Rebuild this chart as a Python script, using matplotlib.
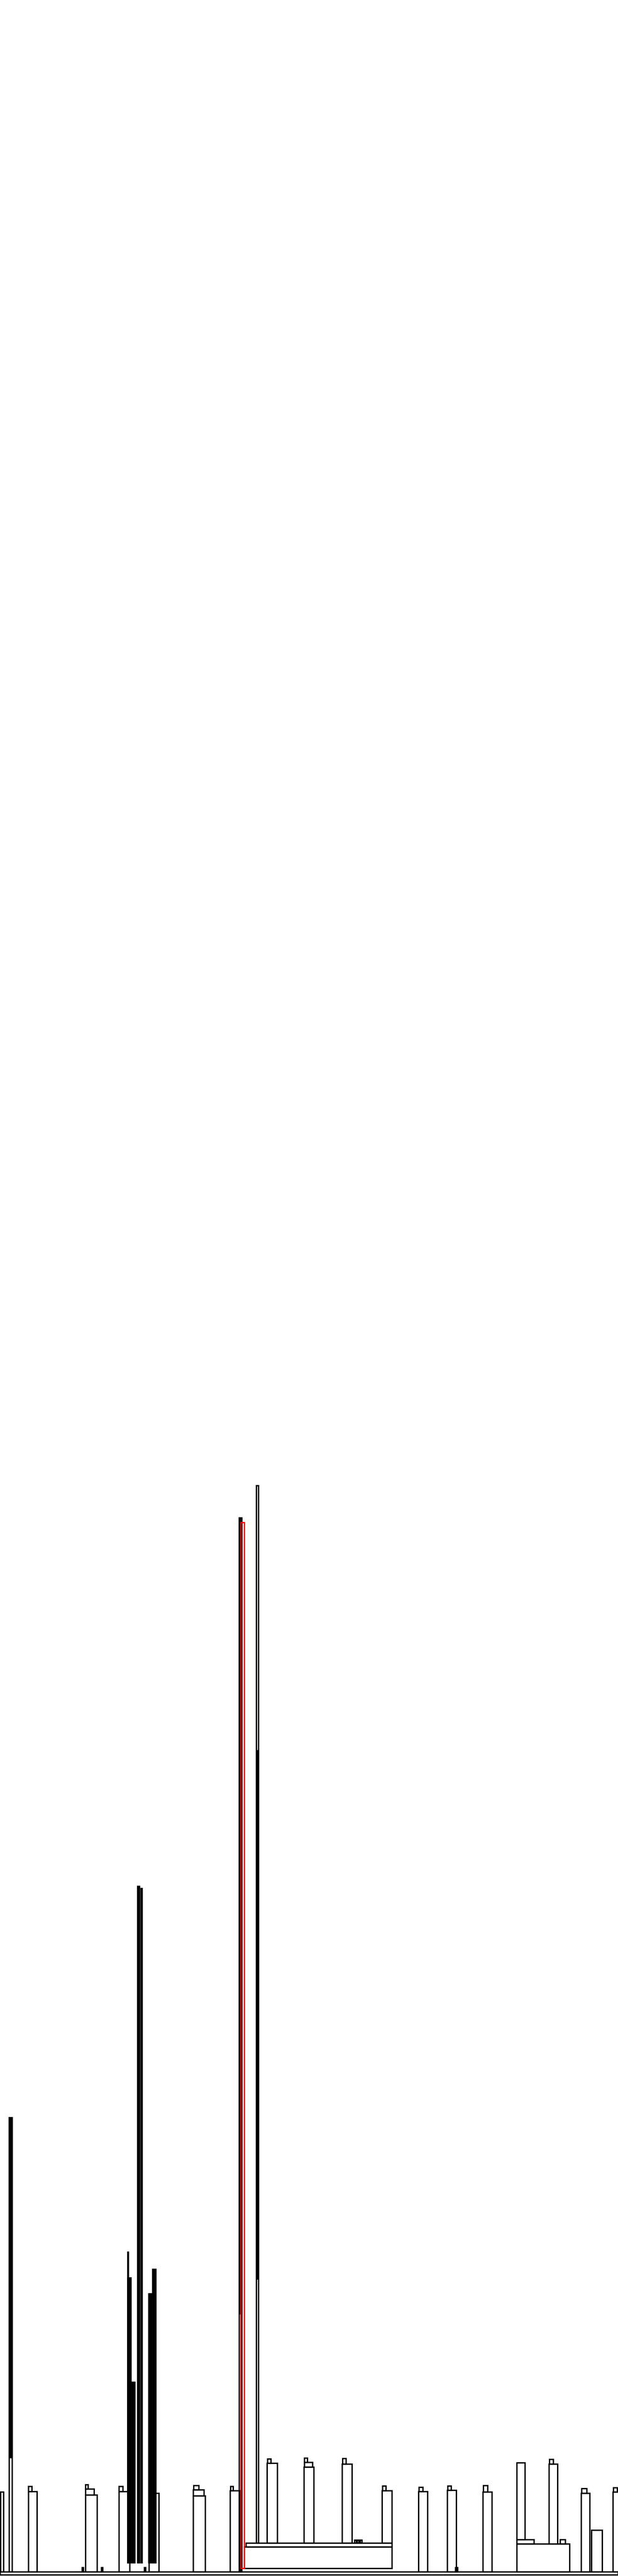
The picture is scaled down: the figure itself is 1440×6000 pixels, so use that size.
import matplotlib
matplotlib.use("Agg")
import matplotlib.pyplot as plt

# Heights are measured in pixel units above the common baseline.
# Outlined towers: left edge, right edge, top, bottom
tower_left   = [1, 21, 66, 199, 277, 347, 450, 536, 557,
                597, 569, 573, 622, 708, 797, 890, 975, 1042, 1125, 1204, 1204, 1204, 1279,
                1354, 1378, 1428]
tower_right  = [8, 28, 86, 226, 302, 370, 478, 560, 563,
                602, 913, 913, 646, 731, 820, 913, 996, 1063, 1146, 1327, 1223, 1244, 1299,
                1374, 1403, 1446]
tower_top    = [186, 1058, 187, 179, 187, 183, 177, 189, 2455,
                2530, 58, 67, 253, 244, 251, 189, 187, 190, 186, 65, 254, 75, 251,
                183, 97, 186]
tower_bottom = [0, 0, 0, 0, 0, 0, 0, 0, 0,
                67, 8, 58, 67, 67, 67, 67, 0, 0, 0, 0, 75, 65, 65,
                0, 0, 0]

# Solid (filled) narrow spikes
solid_left   = [21, 297, 297, 307, 320, 328, 346, 355, 597, 557]
solid_right  = [28, 306, 300, 315, 326, 332, 354, 364, 602, 561]
solid_top    = [1058, 685, 745, 442, 1597, 1592, 648, 705, 1913, 2455]
solid_bottom = [265, 20, 20, 20, 20, 20, 20, 20, 681, 600]

# Shoulder steps on top of some towers
step_left   = [199, 450, 709]
step_right  = [219, 475, 728]
step_top    = [193, 191, 255]
step_bottom = [179, 177, 244]

# Small flags on top of towers
flag_left   = [66, 199, 277, 349, 451, 537, 623, 709, 798, 891, 976, 1043, 1126, 1280, 1305, 1355, 1429]
flag_right  = [74, 205, 286, 361, 463, 543, 631, 716, 806, 899, 985, 1051, 1136, 1289, 1317, 1367, 1438]
flag_top    = [199, 203, 199, 198, 201, 199, 263, 265, 264, 200, 197, 200, 201, 262, 75, 194, 196]
flag_bottom = [187, 193, 187, 183, 191, 189, 253, 255, 251, 189, 187, 190, 186, 251, 65, 183, 186]

# Tiny bumps
bump_left   = [191, 236, 336, 1061, 826, 832, 839]
bump_right  = [194, 239, 339, 1066, 830, 836, 843]
bump_top    = [10, 10, 10, 10, 74, 74, 74]
bump_bottom = [0, 0, 0, 0, 67, 67, 67]

# Highlighted (red) tower
red_left, red_right, red_top, red_bottom = [561], [569], [2444], [8]

# Ground strip
ground_left, ground_right, ground_top, ground_bottom = [0], [1440], [0], [-7]

fig = plt.figure(figsize=(14.4, 60), dpi=100)
ax = fig.add_axes([0, 0, 1, 1])
ax.set_xlim(0, 1440)
ax.set_ylim(-10, 5990)
ax.axis("off")

LW = 2.3

def draw(lefts, rights, tops, bottoms, color, filled=False):
    widths = [r - l for l, r in zip(lefts, rights)]
    heights = [t - b for t, b in zip(tops, bottoms)]
    if filled:
        ax.bar(lefts, heights, width=widths, bottom=bottoms, align="edge",
               color=color, edgecolor=color, linewidth=LW * 0.5)
    else:
        ax.bar(lefts, heights, width=widths, bottom=bottoms, align="edge",
               fill=False, edgecolor=color, linewidth=LW, joinstyle="miter")

draw(ground_left, ground_right, ground_top, ground_bottom, "black")
draw(tower_left, tower_right, tower_top, tower_bottom, "black")
draw(solid_left, solid_right, solid_top, solid_bottom, "black", filled=True)
draw(step_left, step_right, step_top, step_bottom, "black")
draw(flag_left, flag_right, flag_top, flag_bottom, "black")
draw(bump_left, bump_right, bump_top, bump_bottom, "black")
draw(red_left, red_right, red_top, red_bottom, "#ff0000")

fig.savefig("out.png", dpi=100, facecolor="white")
